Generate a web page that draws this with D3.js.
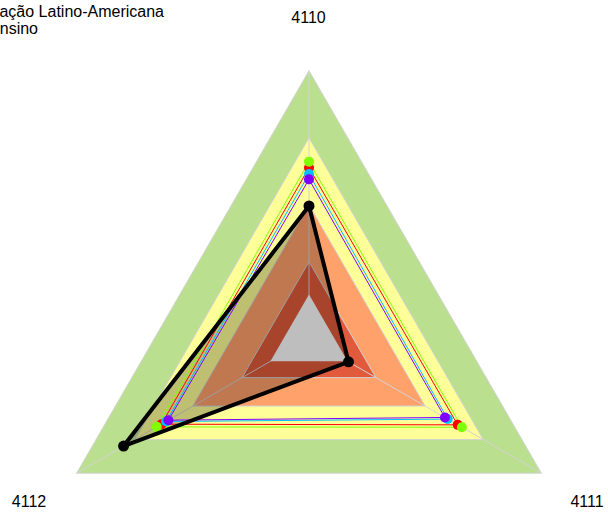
<!DOCTYPE html>
<html>
<head>
<meta charset="utf-8">
<script src="https://cdn.jsdelivr.net/npm/d3@7"></script>
<style>
  html, body { margin: 0; padding: 0; background: #ffffff; }
  svg { display: block; }
  text { font-family: "Liberation Sans", Arial, sans-serif; }
</style>
</head>
<body>
<svg id="chart" width="608" height="512"></svg>
<script>
// ---- data ----
const axes = ["4110", "4111", "4112"];
const titleLines = ["Universidade Federal da Integração Latino-Americana", "Ensino"];

// background bands (outer -> inner)
const bandLevels = [1.0, 0.75, 0.5, 0.288];
const bandColors = ["#BADF8E", "#FFFF99", "#FFA16B", "#E05A3B"];
const coreLevel = 0.166;
const coreColor = "#BEBEBE";

// series values per axis (4110, 4111, 4112)
const seriesNames = ["red", "cyan", "lime", "purple"];
const seriesColors = ["#FF0000", "#00BFFF", "#80FF00", "#8000FF"];
const redValues    = [0.638, 0.640, 0.635];
const cyanValues   = [0.615, 0.597, 0.615];
const limeValues   = [0.661, 0.658, 0.655];
const purpleValues = [0.595, 0.585, 0.605];
const mainValues   = [0.496, 0.170, 0.798];

// ---- layout ----
const svg = d3.select("#chart");
const cx = 309, cy = 339, R = 268.3;
const r = d3.scaleLinear().domain([0, 1]).range([0, R]);
const ang = d3.scalePoint().domain(axes).range([0, 4 * Math.PI / 3]);

const g = svg.append("g").attr("transform", `translate(${cx},${cy})`);

const radial = d3.lineRadial()
  .angle((d, i) => ang(axes[i]))
  .radius(d => r(d))
  .curve(d3.curveLinearClosed);

const pt = (v, i) => {
  const a = ang(axes[i]);
  return [r(v) * Math.sin(a), -r(v) * Math.cos(a)];
};

// bands
bandLevels.forEach((lv, k) => {
  g.append("path")
    .attr("d", radial(axes.map(() => lv)))
    .attr("fill", bandColors[k])
    .attr("stroke", "#D3D3D3")
    .attr("stroke-width", 1);
});

// spokes
axes.forEach((a, i) => {
  const [x, y] = pt(1, i);
  g.append("line").attr("x1", 0).attr("y1", 0).attr("x2", x).attr("y2", y)
    .attr("stroke", "#D3D3D3").attr("stroke-width", 1);
});

// main series fill
g.append("path")
  .attr("d", radial(mainValues))
  .attr("fill", "rgba(0,0,0,0.25)")
  .attr("stroke", "none");

// core
g.append("path")
  .attr("d", radial(axes.map(() => coreLevel)))
  .attr("fill", coreColor)
  .attr("stroke", "none");

// thin series
const seriesValues = [redValues, cyanValues, limeValues, purpleValues];
seriesValues.forEach((vals, k) => {
  g.append("path")
    .attr("d", radial(vals))
    .attr("fill", "none")
    .attr("stroke", seriesColors[k])
    .attr("stroke-width", 1);
});
seriesValues.forEach((vals, k) => {
  g.selectAll(null).data(vals).enter().append("circle")
    .attr("cx", (d, i) => pt(d, i)[0])
    .attr("cy", (d, i) => pt(d, i)[1])
    .attr("r", 5)
    .attr("fill", seriesColors[k]);
});

// main series line
g.append("path")
  .attr("d", radial(mainValues))
  .attr("fill", "none")
  .attr("stroke", "#000")
  .attr("stroke-width", 4)
  .attr("stroke-linejoin", "round");
g.selectAll(null).data(mainValues).enter().append("circle")
  .attr("cx", (d, i) => pt(d, i)[0])
  .attr("cy", (d, i) => pt(d, i)[1])
  .attr("r", 5.5)
  .attr("fill", "#000");

// axis labels
const labelPos = [[308.5, 22.7, "middle"], [587, 507, "middle"], [29, 507, "middle"]];
axes.forEach((a, i) => {
  svg.append("text")
    .attr("x", labelPos[i][0]).attr("y", labelPos[i][1])
    .attr("text-anchor", labelPos[i][2])
    .attr("font-size", 16)
    .attr("fill", "#000")
    .text(a);
});

// title (cut off at left edge like the reference)
svg.append("text").attr("x", 164).attr("y", 16.5).attr("text-anchor", "end")
  .attr("font-size", 16).text(titleLines[0]);
svg.append("text").attr("x", 38).attr("y", 33.5).attr("text-anchor", "end")
  .attr("font-size", 16).text(titleLines[1]);
</script>
</body>
</html>
